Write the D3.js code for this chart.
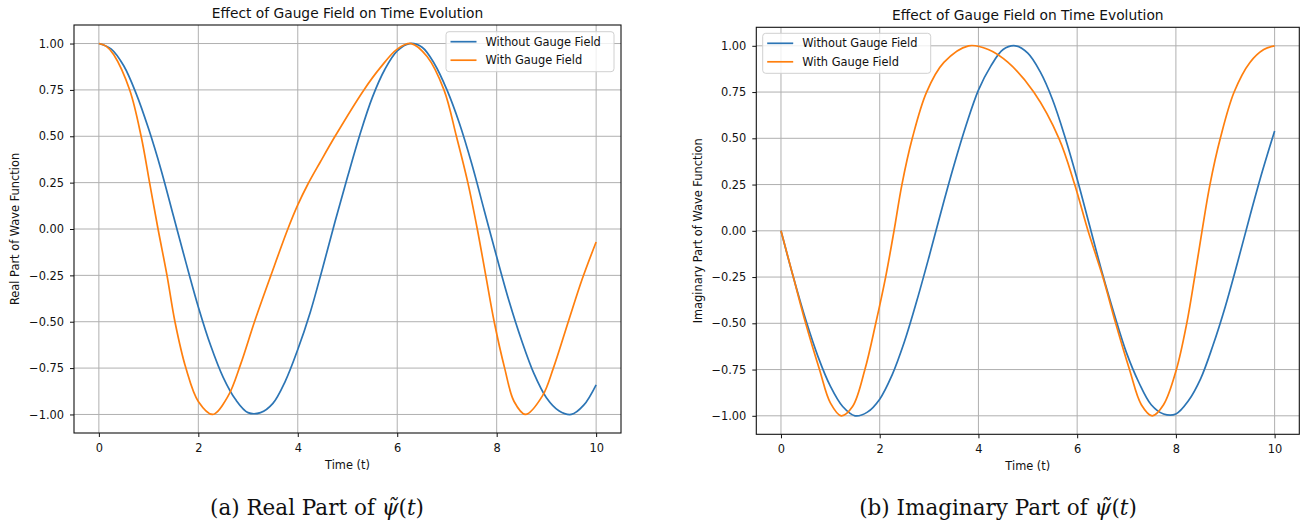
<!DOCTYPE html>
<html>
<head>
<meta charset="utf-8">
<script src="https://cdn.jsdelivr.net/npm/d3@7"></script>
<style>
  body { margin: 0; background: #fff; }
  svg { display: block; font-family: "DejaVu Sans", sans-serif; }
</style>
</head>
<body>
<div id="chart"></div>
<script>
// values
const timeSteps = [0, 0.25, 0.5, 0.75, 1, 1.25, 1.5, 1.75, 2, 2.25, 2.5, 2.75, 3, 3.25, 3.5, 3.75, 4, 4.25, 4.5, 4.75,
  5, 5.25, 5.5, 5.75, 6, 6.25, 6.5, 6.75, 7, 7.25, 7.5, 7.75, 8, 8.25, 8.5, 8.75, 9, 9.25, 9.5, 9.75, 10];

const realNoGauge = [1.00, 0.97, 0.88, 0.73, 0.54, 0.32, 0.07, -0.18, -0.42, -0.63, -0.80, -0.92, -0.99, -0.99, -0.94,
  -0.82, -0.65, -0.45, -0.21, 0.04, 0.28, 0.51, 0.71, 0.86, 0.96, 1.00, 0.98, 0.89, 0.75, 0.57, 0.35, 0.10, -0.15,
  -0.39, -0.60, -0.78, -0.91, -0.98, -1.00, -0.95, -0.84];

const imagNoGauge = [0.00, -0.25, -0.48, -0.68, -0.84, -0.95, -1.00, -0.98, -0.91, -0.78, -0.60, -0.38, -0.14, 0.11,
  0.35, 0.57, 0.76, 0.89, 0.98, 1.00, 0.96, 0.86, 0.71, 0.51, 0.28, 0.03, -0.22, -0.45, -0.66, -0.82, -0.94, -0.99,
  -0.99, -0.92, -0.80, -0.62, -0.41, -0.17, 0.08, 0.32, 0.54];

const realGaugeTime = [0, 0.15, 0.3, 0.62, 0.85, 1.02, 1.19, 1.37, 1.53, 1.75, 2.0, 2.29, 2.6, 2.85, 3.13, 3.46, 3.8,
  4.0, 4.2, 4.45, 4.75, 5.33, 5.66, 6.0, 6.28, 6.6, 6.94, 7.19, 7.42, 7.61, 7.78, 7.95, 8.16, 8.35, 8.58, 8.92, 9.14,
  9.44, 9.72, 10];
const realGauge = [1.00, 0.985, 0.94, 0.75, 0.50, 0.25, 0.00, -0.25, -0.50, -0.75, -0.93, -1.00, -0.90, -0.73, -0.50,
  -0.25, 0.00, 0.13, 0.24, 0.36, 0.50, 0.75, 0.87, 0.97, 1.00, 0.93, 0.75, 0.50, 0.25, 0.00, -0.25, -0.50, -0.75,
  -0.93, -1.00, -0.90, -0.75, -0.50, -0.27, -0.07];

const imagGaugeTime = [0, 0.25, 0.5, 0.78, 1.0, 1.22, 1.45, 1.7, 1.92, 2.12, 2.29, 2.45, 2.66, 2.95, 3.3, 3.8, 4.2, 4.6,
  5.12, 5.63, 5.95, 6.22, 6.52, 6.78, 7.06, 7.3, 7.52, 7.75, 8.01, 8.22, 8.38, 8.53, 8.69, 8.9, 9.18, 9.5, 9.78, 10];
const imagGauge = [0, -0.25, -0.5, -0.75, -0.93, -1.0, -0.95, -0.75, -0.5, -0.25, 0, 0.25, 0.5, 0.75, 0.91, 1.0, 0.98,
  0.91, 0.75, 0.5, 0.25, 0, -0.25, -0.5, -0.75, -0.94, -1.0, -0.94, -0.75, -0.5, -0.25, 0, 0.25, 0.5, 0.75, 0.91,
  0.98, 1.0];

const seriesNames = ["Without Gauge Field", "With Gauge Field"];
const seriesColors = ["#2c75b5", "#ff7f0e"];
const xTicks = [0, 2, 4, 6, 8, 10];
const yTicks = [-1, -0.75, -0.5, -0.25, 0, 0.25, 0.5, 0.75, 1];
const chartTitle = "Effect of Gauge Field on Time Evolution";
const xLabel = "Time (t)";

function zip(ts, vs) {
  return ts.map((t, i) => [t, vs[i]]);
}

// Reusable line panel
function wavePanel() {
  let box = { left: 0, top: 0, width: 500, height: 400 },
    yLabelText = "",
    yLabelX = 15,
    legendPos = [0, 0];

  function panel(svg, series) {
    const g = svg.append("g")
      .attr("transform", "translate(" + box.left + "," + box.top + ")");

    const xScale = d3.scaleLinear().domain([-0.5, 10.5]).range([0, box.width]);
    const yScale = d3.scaleLinear().domain([-1.1, 1.1]).range([box.height, 0]);

    // grid
    g.append("g")
      .selectAll("line.vx")
      .data(xTicks)
      .enter().append("line")
      .attr("x1", d => xScale(d)).attr("x2", d => xScale(d))
      .attr("y1", 0).attr("y2", box.height)
      .attr("stroke", "#b0b0b0").attr("stroke-width", 1);
    g.append("g")
      .selectAll("line.hy")
      .data(yTicks)
      .enter().append("line")
      .attr("x1", 0).attr("x2", box.width)
      .attr("y1", d => yScale(d)).attr("y2", d => yScale(d))
      .attr("stroke", "#b0b0b0").attr("stroke-width", 1);

    // lines
    series.forEach(s => {
      const line = d3.line()
        .x(d => xScale(d[0]))
        .y(d => yScale(d[1]))
        .curve(d3.curveCatmullRom.alpha(0.5));
      g.append("path")
        .datum(s.values)
        .attr("fill", "none")
        .attr("stroke", s.color)
        .attr("stroke-width", 1.7)
        .attr("d", line);
    });

    // axes
    const xAxis = g.append("g")
      .attr("transform", "translate(0," + box.height + ")")
      .call(d3.axisBottom(xScale).tickValues(xTicks).tickFormat(d3.format("d"))
        .tickSize(4).tickPadding(7).tickSizeOuter(0));
    const yAxis = g.append("g")
      .call(d3.axisLeft(yScale).tickValues(yTicks).tickFormat(d3.format(".2f"))
        .tickSize(4).tickPadding(6).tickSizeOuter(0));
    [xAxis, yAxis].forEach(a => {
      a.select(".domain").remove();
      a.selectAll("text").attr("font-size", 11.4).attr("fill", "#111")
        .attr("font-family", "DejaVu Sans");
      a.selectAll("line").attr("stroke", "#111");
    });

    // spines
    g.append("rect")
      .attr("width", box.width).attr("height", box.height)
      .attr("fill", "none").attr("stroke", "#111").attr("stroke-width", 1.1);

    // title and labels
    svg.append("text")
      .attr("x", box.left + box.width / 2).attr("y", box.top - 7.5)
      .attr("text-anchor", "middle").attr("font-size", 13.8).attr("fill", "#111")
      .text(chartTitle);
    svg.append("text")
      .attr("x", box.left + box.width / 2).attr("y", box.top + box.height + 35.5)
      .attr("text-anchor", "middle").attr("font-size", 11.4).attr("fill", "#111")
      .text(xLabel);
    svg.append("text")
      .attr("transform", "translate(" + yLabelX + "," + (box.top + box.height / 2) + ") rotate(-90)")
      .attr("text-anchor", "middle").attr("dy", "0.35em")
      .attr("font-size", 11.4).attr("fill", "#111")
      .text(yLabelText);

    // legend
    const lg = svg.append("g")
      .attr("transform", "translate(" + legendPos[0] + "," + legendPos[1] + ")");
    lg.append("rect")
      .attr("width", 168).attr("height", 40).attr("rx", 3)
      .attr("fill", "#fff").attr("fill-opacity", 0.8)
      .attr("stroke", "#d0d0d0").attr("stroke-width", 1);
    series.forEach((s, i) => {
      const yy = 10 + i * 18.5;
      lg.append("line")
        .attr("x1", 4.5).attr("x2", 30.5).attr("y1", yy).attr("y2", yy)
        .attr("stroke", s.color).attr("stroke-width", 1.7);
      lg.append("text")
        .attr("x", 39.5).attr("y", yy).attr("dy", "0.36em")
        .attr("font-size", 11.4).attr("fill", "#111")
        .text(s.name);
    });

    return panel;
  }

  panel.box = function (_) {
    if (!arguments.length) return box;
    box = _;
    return panel;
  };

  panel.yLabel = function (_) {
    if (!arguments.length) return yLabelText;
    yLabelText = _;
    return panel;
  };

  panel.yLabelX = function (_) {
    if (!arguments.length) return yLabelX;
    yLabelX = _;
    return panel;
  };

  panel.legend = function (_) {
    if (!arguments.length) return legendPos;
    legendPos = _;
    return panel;
  };

  return panel;
}

const svg = d3.select("#chart").append("svg")
  .attr("width", 1300).attr("height", 524);

wavePanel()
  .box({ left: 74, top: 25, width: 547, height: 408 })
  .yLabel("Real Part of Wave Function")
  .yLabelX(15)
  .legend([446, 31.7])(svg, [
    { name: seriesNames[0], color: seriesColors[0], values: zip(timeSteps, realNoGauge) },
    { name: seriesNames[1], color: seriesColors[1], values: zip(realGaugeTime, realGauge) }
  ]);

wavePanel()
  .box({ left: 756.3, top: 27.3, width: 543, height: 407 })
  .yLabel("Imaginary Part of Wave Function")
  .yLabelX(697.7)
  .legend([762.7, 33.3])(svg, [
    { name: seriesNames[0], color: seriesColors[0], values: zip(timeSteps, imagNoGauge) },
    { name: seriesNames[1], color: seriesColors[1], values: zip(imagGaugeTime, imagGauge) }
  ]);

// sub-figure captions
const captions = [
  { x: 317, label: "(a) Real Part of " },
  { x: 998, label: "(b) Imaginary Part of " }
];
captions.forEach(c => {
  const t = svg.append("text")
    .attr("x", c.x).attr("y", 515)
    .attr("text-anchor", "middle")
    .attr("font-family", "DejaVu Serif, serif")
    .attr("font-size", 21.5)
    .attr("fill", "#111");
  t.append("tspan").text(c.label);
  t.append("tspan").attr("font-style", "italic").text("\u03C8\u0303");
  t.append("tspan").text("(");
  t.append("tspan").attr("font-style", "italic").text("t");
  t.append("tspan").text(")");
});
</script>
</body>
</html>
